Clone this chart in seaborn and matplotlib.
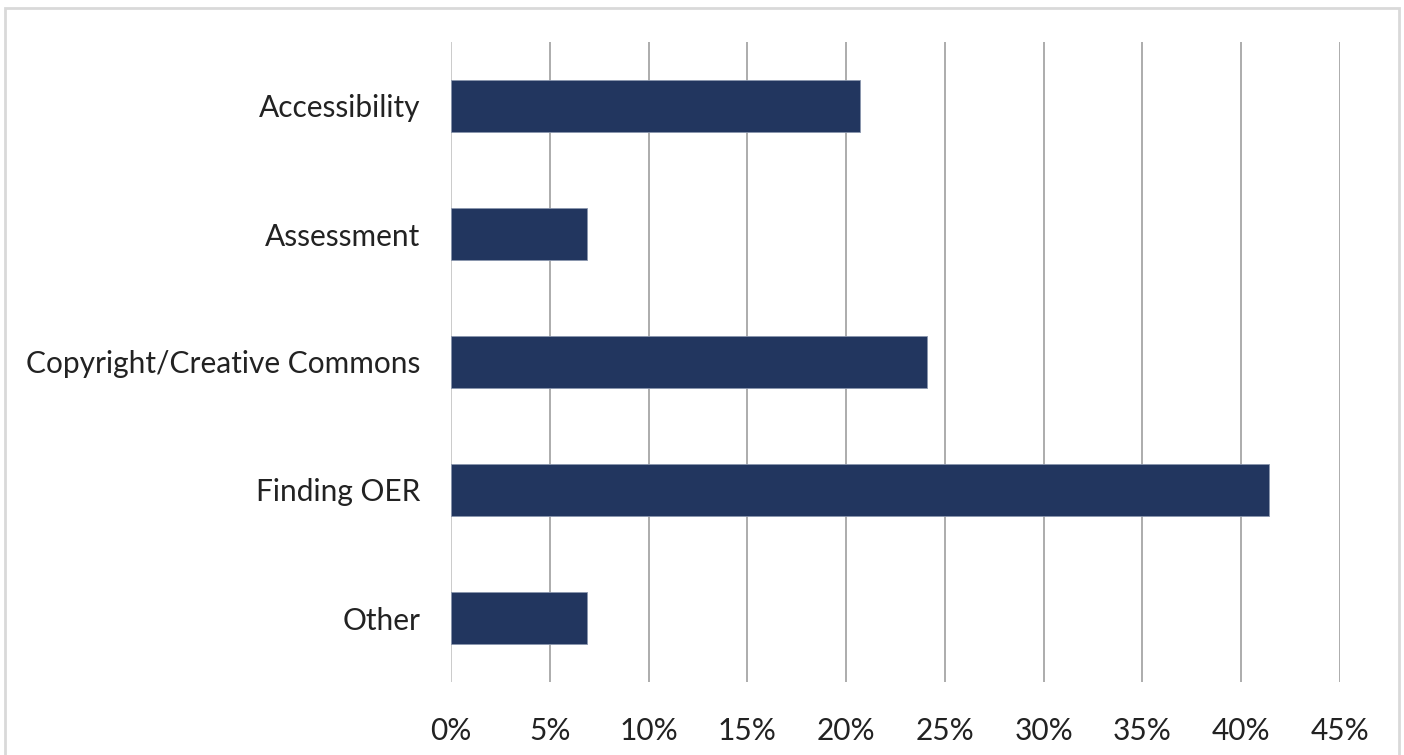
import matplotlib
matplotlib.use("Agg")
import matplotlib.pyplot as plt
import seaborn as sns
import pandas as pd
from matplotlib.patches import Rectangle
from matplotlib.ticker import FuncFormatter, MultipleLocator

categories = ["Accessibility", "Assessment", "Copyright/Creative Commons", "Finding OER", "Other"]
shares = [0.207, 0.069, 0.241, 0.414, 0.069]

df = pd.DataFrame({"topic": categories, "share": shares})

sns.set_theme(style="white")
plt.rcParams["font.family"] = ["Lato", "DejaVu Sans"]

fig = plt.figure(figsize=(14.04, 7.55), dpi=100)
ax = fig.add_axes([451 / 1404, 73 / 755, 889 / 1404, 640 / 755])

sns.barplot(data=df, x="share", y="topic", order=categories, color="#22365f",
            saturation=1, width=0.4, ax=ax, zorder=3,
            edgecolor="#8a96ad", linewidth=0.6)

ax.set_xlim(0, 0.45)
ax.set_ylim(4.5, -0.5)
ax.xaxis.set_major_locator(MultipleLocator(0.05))
ax.xaxis.set_major_formatter(FuncFormatter(lambda v, _: f"{round(v * 100)}%"))
ax.grid(axis="x", color="#a6a6a6", linewidth=1.3, zorder=0)
ax.grid(axis="y", visible=False)
for s in ax.spines.values():
    s.set_visible(False)
ax.axvline(0, color="#d0d0d0", linewidth=1.3, zorder=1)

ax.set_xlabel("")
ax.set_ylabel("")
ax.tick_params(axis="both", length=0, labelsize=21.5, colors="#222222")
ax.tick_params(axis="x", pad=25)
ax.tick_params(axis="y", pad=22)

# light outer frame around the chart area
fig.patches.append(Rectangle((5 / 1404, -0.05), 1394 / 1404, (1 - 8 / 755) + 0.05,
                             transform=fig.transFigure, fill=False,
                             edgecolor="#d9d9d9", linewidth=2))

fig.savefig("out.png", dpi=100)
